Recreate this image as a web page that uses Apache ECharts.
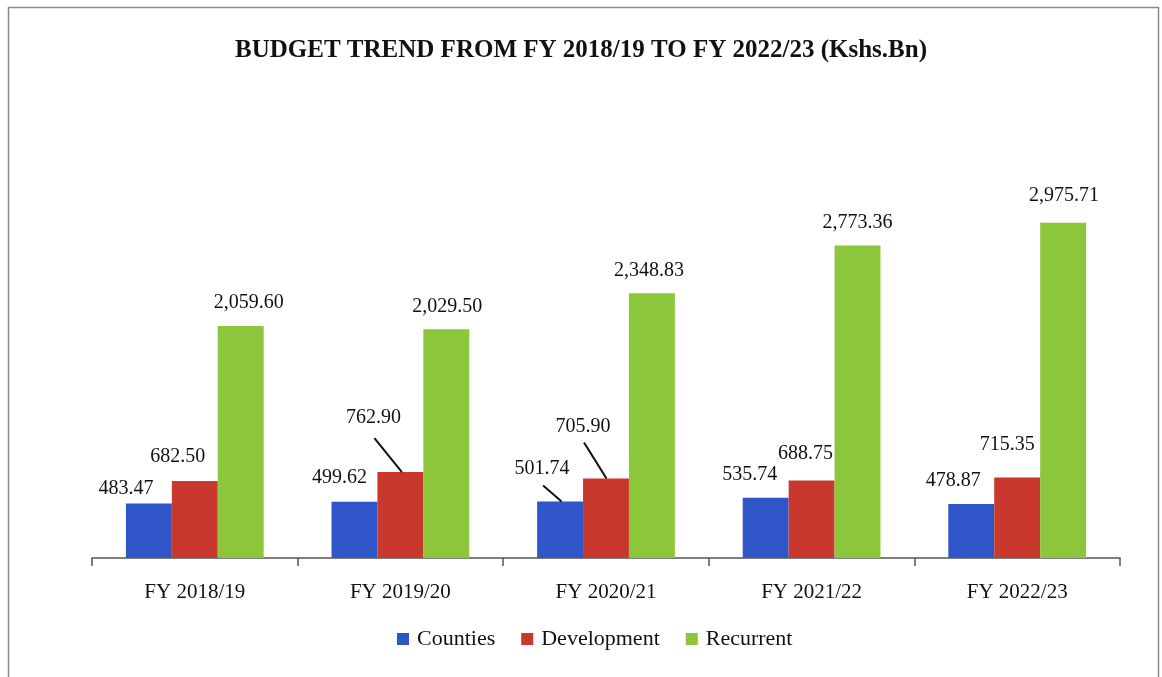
<!DOCTYPE html>
<html>
<head>
<meta charset="utf-8">
<script src="https://cdn.jsdelivr.net/npm/echarts@6/dist/echarts.min.js"></script>
<style>
  html, body { margin: 0; padding: 0; background: #fff; }
  #main { width: 1162px; height: 677px; }
</style>
</head>
<body>
<div id="main"></div>
<script>
  var years = ['FY 2018/19', 'FY 2019/20', 'FY 2020/21', 'FY 2021/22', 'FY 2022/23'];
  var seriesNames = ['Counties', 'Development', 'Recurrent'];
  var counties = [483.47, 499.62, 501.74, 535.74, 478.87];
  var development = [682.50, 762.90, 705.90, 688.75, 715.35];
  var recurrent = [2059.60, 2029.50, 2348.83, 2773.36, 2975.71];
  var allValues = [counties, development, recurrent];

  // label placement: [dx from bar centre, label bottom above bar top], per series
  var labelPos = [
    [[-23, 5], [-15, 14], [-18, 23], [-16, 13], [-18, 13]],
    [[-17, 14], [-27, 44], [-23, 42], [-6, 17], [-10, 23]],
    [[8, 13], [1, 13], [-3, 13], [0, 13], [1, 17]]
  ];
  // leader lines: series, category, start and end relative to bar centre / bar top
  var leaderLines = [
    { s: 1, i: 1, from: [-26, -34], to: [1.5, 0] },
    { s: 0, i: 2, from: [-17, -16], to: [1.5, 0] },
    { s: 1, i: 2, from: [-22, -36], to: [0.5, 0] }
  ];

  var serif = '"Liberation Serif", "DejaVu Serif", serif';
  var colors = ['#2f55c8', '#c8382c', '#8cc63a'];
  var catGap = 0.33;

  function fmt(v) {
    return v.toLocaleString('en-US', { minimumFractionDigits: 2, maximumFractionDigits: 2 });
  }

  function makeSeries(si) {
    return {
      name: seriesNames[si],
      type: 'bar',
      barGap: '0%',
      barCategoryGap: (catGap * 100) + '%',
      itemStyle: { color: colors[si] },
      label: {
        show: true,
        position: 'top',
        color: '#111',
        fontFamily: serif,
        fontSize: 20,
        formatter: function (p) { return fmt(p.value); }
      },
      data: allValues[si]
    };
  }

  var leaderData = leaderLines.map(function (l, k) {
    return [l.i, allValues[l.s][l.i], k];
  });

  var myChart = echarts.init(document.getElementById('main'));
  myChart.setOption({
    animation: false,
    color: colors,
    title: {
      text: 'BUDGET TREND FROM FY 2018/19 TO FY 2022/23 (Kshs.Bn)',
      left: 'center',
      top: 33,
      textStyle: { fontFamily: serif, fontWeight: 'bold', fontSize: 25, color: '#111' }
    },
    graphic: [{
      type: 'rect',
      shape: { x: 8.5, y: 7.5, width: 1150, height: 690 },
      style: { fill: 'none', stroke: '#8a8a8a', lineWidth: 1.5 },
      silent: true
    }],
    legend: {
      bottom: 22,
      left: 392,
      itemWidth: 12,
      itemHeight: 12,
      itemGap: 26,
      icon: 'rect',
      textStyle: { fontFamily: serif, fontSize: 22, color: '#111', padding: [0, 0, 0, 3] },
      data: seriesNames
    },
    grid: { left: 92, right: 42, top: 220, bottom: 119 },
    xAxis: {
      type: 'category',
      data: years,
      axisLine: { lineStyle: { color: '#555', width: 1.5 } },
      axisTick: { show: true, length: 8, lineStyle: { color: '#555', width: 1.5 } },
      axisLabel: { fontFamily: serif, fontSize: 21, color: '#111', margin: 24 }
    },
    yAxis: {
      type: 'value',
      min: 0,
      max: 3000,
      show: false,
      splitLine: { show: false }
    },
    labelLayout: function (p) {
      if (p.seriesIndex > 2) return {};
      var pos = labelPos[p.seriesIndex][p.dataIndex];
      return {
        x: p.rect.x + p.rect.width / 2 + pos[0],
        y: p.rect.y - pos[1],
        align: 'center',
        verticalAlign: 'bottom'
      };
    },
    series: [
      makeSeries(0),
      makeSeries(1),
      makeSeries(2),
      {
        type: 'custom',
        silent: true,
        z: 10,
        renderItem: function (params, api) {
          var l = leaderLines[api.value(2)];
          var pt = api.coord([api.value(0), api.value(1)]);
          var bw = api.size([1, 0])[0] * (1 - catGap) / 3;
          var bx = pt[0] + (l.s - 1) * bw;
          return {
            type: 'line',
            shape: {
              x1: bx + l.from[0], y1: pt[1] + l.from[1],
              x2: bx + l.to[0], y2: pt[1] + l.to[1]
            },
            style: { stroke: '#111', lineWidth: 2 }
          };
        },
        data: leaderData
      }
    ]
  });
  window.addEventListener('resize', myChart.resize);
</script>
</body>
</html>
